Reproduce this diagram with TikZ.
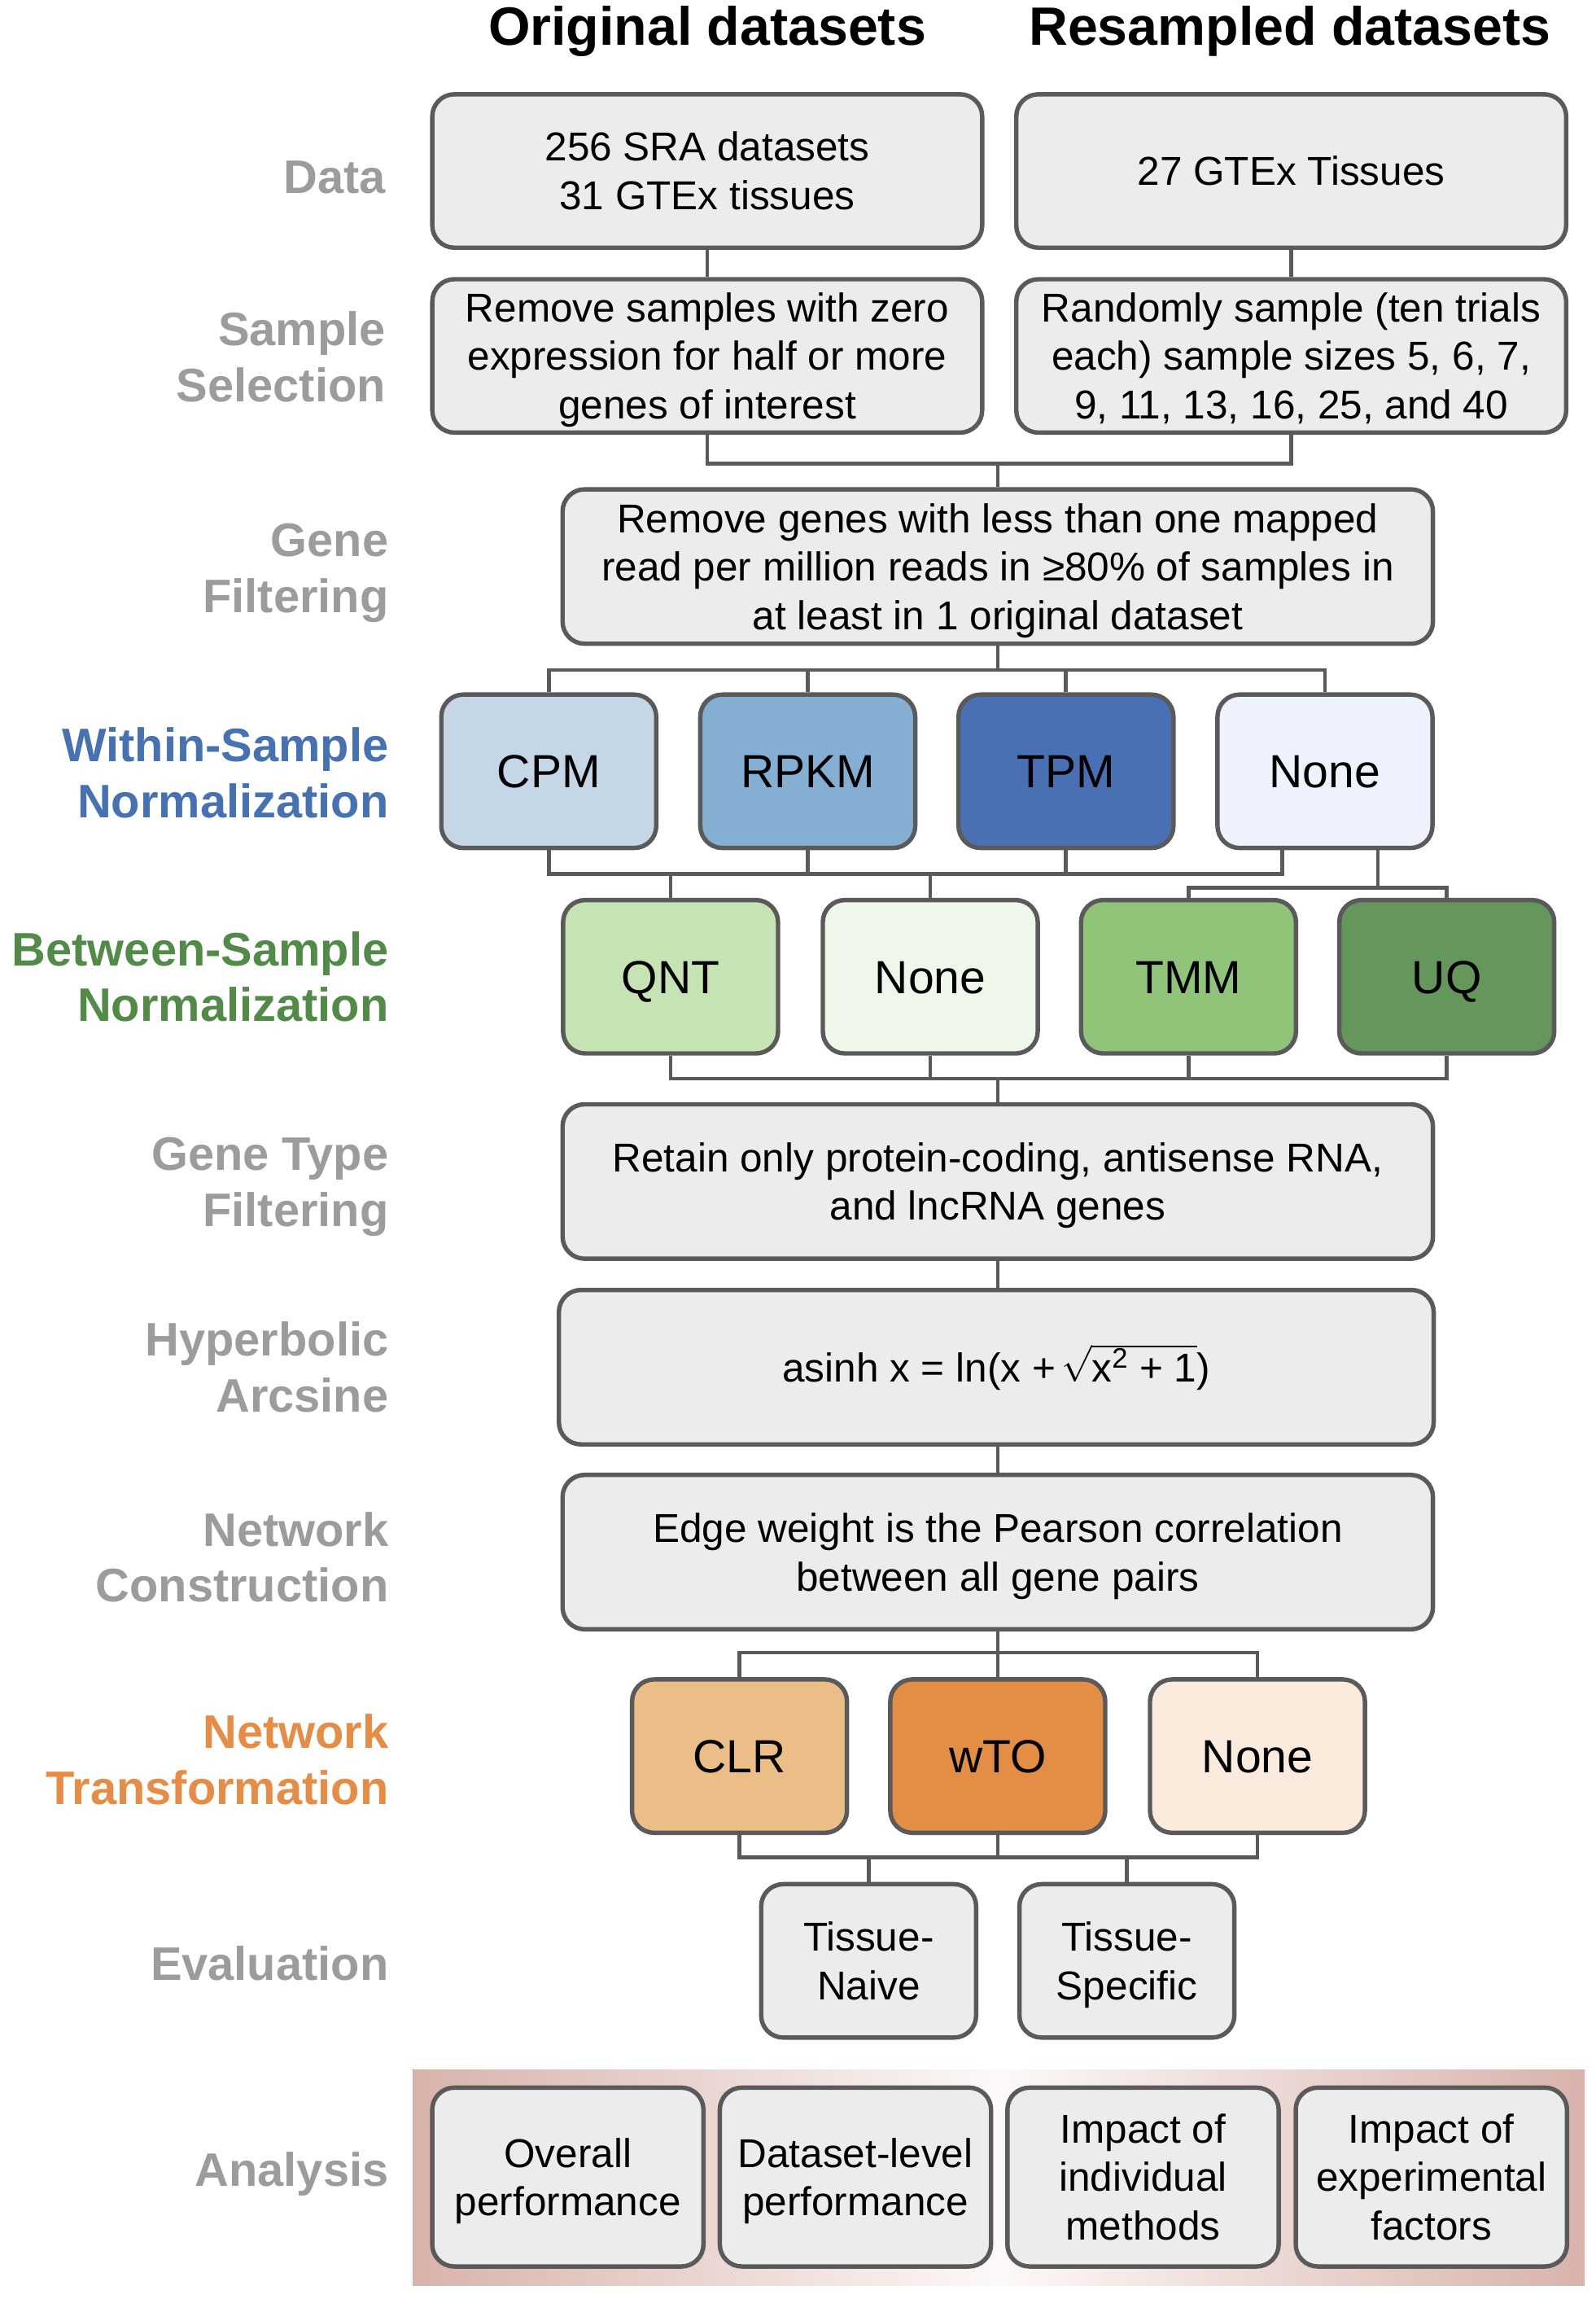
\documentclass[tikz,border=0pt]{standalone}
\usepackage{fontspec}
\setmainfont{Liberation Sans}
\definecolor{lc}{HTML}{5A5A5A}
\definecolor{boxgray}{HTML}{ECECEC}
\definecolor{cpm}{HTML}{C5D6E6}
\definecolor{rpkm}{HTML}{84AFD3}
\definecolor{tpm}{HTML}{4870B2}
\definecolor{nonew}{HTML}{EEF2FC}
\definecolor{qnt}{HTML}{C6E3B4}
\definecolor{noneb}{HTML}{EEF7E9}
\definecolor{tmm}{HTML}{90C479}
\definecolor{uq}{HTML}{65965C}
\definecolor{clr}{HTML}{EBBE88}
\definecolor{wto}{HTML}{E48D45}
\definecolor{nonet}{HTML}{FAEBDD}
\definecolor{labgray}{HTML}{9C9C9C}
\definecolor{labblue}{HTML}{4672B4}
\definecolor{labgreen}{HTML}{528A47}
\definecolor{laborange}{HTML}{E68C45}
\definecolor{pinkedge}{HTML}{D8B3AB}
\definecolor{pinkmid}{HTML}{FCF9F8}
\newcommand\topS{\rule{0pt}{0.966em}}
\newcommand\botS{\rule[-0.25em]{0pt}{0.25em}}
\tikzset{
  box/.style={draw=lc, line width=3pt, rounded corners=15pt, fill=boxgray,
    align=center, inner sep=0pt, text=black, font=\fontsize{27.4}{33}\selectfont},
  widebox/.style={box, minimum width=592pt, minimum height=105pt},
  halfbox/.style={box, minimum width=374pt, minimum height=104.3pt},
  smallbox/.style={box, minimum width=146.2pt, minimum height=104.3pt, font=\fontsize{31.6}{38}\selectfont},
  evalbox/.style={box, minimum width=146.2pt, minimum height=104.3pt},
  anbox/.style={box, minimum width=184.5pt, minimum height=121.6pt},
  lab/.style={anchor=east, align=right, inner sep=0pt, text=labgray,
    font=\bfseries\fontsize{32}{38}\selectfont},
  ttl/.style={inner sep=0pt, font=\bfseries\fontsize{36.7}{44}\selectfont},
  conn/.style={draw=lc, line width=2.6pt}
}
\begin{document}
\begin{tikzpicture}[x=0.998pt,y=-0.998pt]
\useasboundingbox (0,0) rectangle (1087.2,1566.4);
% titles
\node[ttl] (t1) at (482,21.5) {Original datasets};
\node[ttl] (t2) at (879,21.5) {Resampled datasets};
% left labels
\node[lab] (l1) at (263,121) {Data};
\node[lab] (l2) at (263,243) {Sample\\Selection};
\node[lab] (l3) at (265,390.5) {Gene\\Filtering};
\node[lab, text=labblue] (l4) at (265,526.5) {Within-Sample\\Normalization};
\node[lab, text=labgreen] (l5) at (265,665.5) {Between-Sample\\Normalization};
\node[lab] (l6) at (265,808.5) {Gene Type\\Filtering};
\node[lab] (l7) at (265,931.5) {Hyperbolic\\Arcsine};
\node[lab] (l8) at (265,1061) {Network\\Construction};
\node[lab, text=laborange] (l9) at (265,1199) {Network\\Transformation};
\node[lab] (l10) at (265,1337.5) {Evaluation};
\node[lab] (l11) at (265,1481) {Analysis};
% data
\node[halfbox] (d1) at (482,116.5) {\topS 256 SRA datasets\\31 GTEx tissues\botS};
\node[halfbox] (d2) at (880,116.5) {\topS 27 GTEx Tissues\botS};
% sample selection
\node[halfbox] (s1) at (482,242.5) {\topS Remove samples with zero\\expression for half or more\\genes of interest\botS};
\node[halfbox] (s2) at (880,242.5) {\topS Randomly sample (ten trials\\each) sample sizes 5, 6, 7,\\9, 11, 13, 16, 25, and 40\botS};
% gene filtering
\node[widebox] (gf) at (680,386) {\topS Remove genes with less than one mapped\\read per million reads in ≥80\% of samples in\\at least in 1 original dataset\botS};
% within
\node[smallbox, fill=cpm] (w1) at (374,525.5) {\topS CPM\botS};
\node[smallbox, fill=rpkm] (w2) at (550.5,525.5) {\topS RPKM\botS};
\node[smallbox, fill=tpm] (w3) at (726.5,525.5) {\topS TPM\botS};
\node[smallbox, fill=nonew] (w4) at (903,525.5) {\topS None\botS};
% between
\node[smallbox, fill=qnt] (b1) at (457,665.5) {\topS QNT\botS};
\node[smallbox, fill=noneb] (b2) at (634,665.5) {\topS None\botS};
\node[smallbox, fill=tmm] (b3) at (810,665.5) {\topS TMM\botS};
\node[smallbox, fill=uq] (b4) at (986,665.5) {\topS UQ\botS};
% gene type
\node[widebox] (gt) at (680,805) {\topS Retain only protein-coding, antisense RNA,\\and lncRNA genes\botS};
% hyperbolic
\node[widebox, minimum width=595pt] (hy) at (679,931.5) {\topS asinh x = ln(x +\kern4pt$\sqrt{\hbox{x\textsuperscript{2} + 1}}$)\botS};
% network construction
\node[widebox] (nc) at (680,1057.5) {\topS Edge weight is the Pearson correlation\\between all gene pairs\botS};
% transformation
\node[smallbox, fill=clr] (n1) at (504,1196.5) {\topS CLR\botS};
\node[smallbox, fill=wto] (n2) at (680,1196.5) {\topS wTO\botS};
\node[smallbox, fill=nonet] (n3) at (857,1196.5) {\topS None\botS};
% evaluation
\node[evalbox] (e1) at (592,1336) {\topS Tissue-\\Naive\botS};
\node[evalbox] (e2) at (768,1336) {\topS Tissue-\\Specific\botS};
% analysis
\fill[left color=pinkedge, right color=pinkedge, middle color=pinkmid] (281.4,1410) rectangle (1080,1557);
\node[anbox] (a1) at (387,1483.3) {\topS Overall\\performance\botS};
\node[anbox] (a2) at (583,1483.3) {\topS Dataset-level\\performance\botS};
\node[anbox] (a3) at (779,1483.3) {\topS Impact of\\individual\\methods\botS};
\node[anbox] (a4) at (975.5,1483.3) {\topS Impact of\\experimental\\factors\botS};
% bar coordinates
\coordinate (y1) at (0,316);
\coordinate (y2) at (0,456.5);
\coordinate (y3) at (0,595.5);
\coordinate (y4) at (0,605);
\coordinate (y5) at (0,735);
\coordinate (y6) at (0,1126);
\coordinate (y7) at (0,1265.5);
% connectors
\draw[conn] (d1.south) -- (s1.north);
\draw[conn] (d2.south) -- (s2.north);
\draw[conn] (s1.south) -- (s1.south |- y1) -| (gf.north);
\draw[conn] (s2.south) -- (s2.south |- y1) -| (gf.north);
\draw[conn] (gf.south) -- (gf.south |- y2);
\draw[conn] (w1.north) |- (gf.south |- y2) -| (w4.north);
\draw[conn] (w2.north) -- (w2.north |- y2);
\draw[conn] (w3.north) -- (w3.north |- y2);
\coordinate (w4l) at ([xshift=-29pt]w4.south);
\coordinate (w4r) at ([xshift=36pt]w4.south);
\draw[conn] (w1.south) |- (w4l |- y3) -- (w4l);
\draw[conn] (w2.south) -- (w2.south |- y3);
\draw[conn] (w3.south) -- (w3.south |- y3);
\draw[conn] (b1.north) -- (b1.north |- y3);
\draw[conn] (b2.north) -- (b2.north |- y3);
\draw[conn] (w4r) -- (w4r |- y4);
\draw[conn] (b3.north) |- (b4.north |- y4) -- (b4.north);
\draw[conn] (b1.south) |- (b4.south |- y5) -- (b4.south);
\draw[conn] (b2.south) -- (b2.south |- y5);
\draw[conn] (b3.south) -- (b3.south |- y5);
\draw[conn] (gt.north) -- (gt.north |- y5);
\draw[conn] (gt.south) -- (gt.south |- hy.north);
\draw[conn] (hy.south -| nc.south) -- (nc.north);
\draw[conn] (nc.south) -- (n2.north);
\draw[conn] (n1.north) |- (n3.north |- y6) -- (n3.north);
\draw[conn] (n1.south) |- (n3.south |- y7) -- (n3.south);
\draw[conn] (n2.south) -- (n2.south |- y7);
\draw[conn] (e1.north) -- (e1.north |- y7);
\draw[conn] (e2.north) -- (e2.north |- y7);
\end{tikzpicture}
\end{document}
